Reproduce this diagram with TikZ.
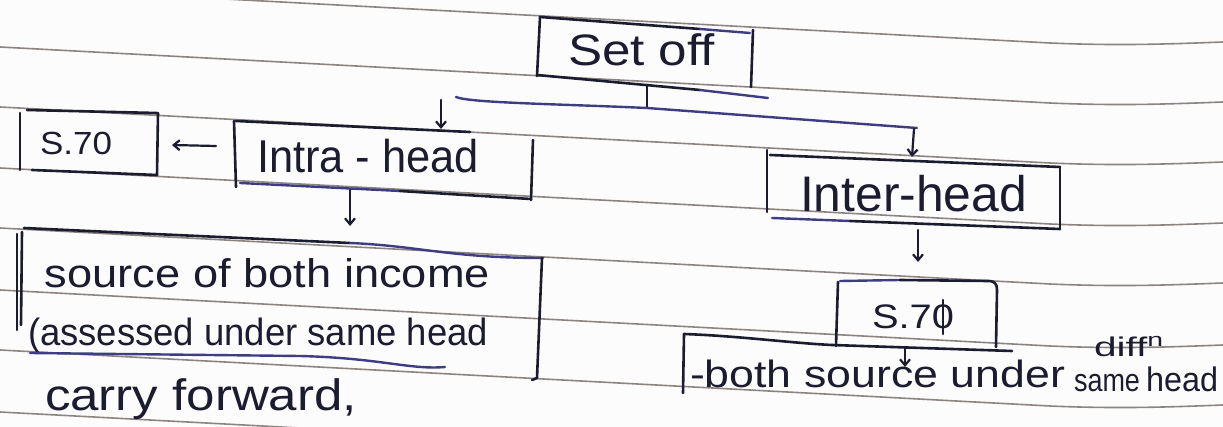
\documentclass[tikz,border=0pt]{standalone}
\usepackage{fontspec}
\setmainfont{Liberation Sans}
\usepackage{graphicx}
\usetikzlibrary{arrows.meta}
\definecolor{ink}{RGB}{28,28,48}
\definecolor{blueink}{RGB}{62,60,130}
\definecolor{rulegray}{RGB}{140,132,128}
\definecolor{paper}{RGB}{253,252,252}
\newcommand\hw[3]{{\fontsize{#2}{#2}\selectfont\resizebox{#1}{\height}{#3}}}
\begin{document}
\begin{tikzpicture}[x=1pt,y=-1pt,
  pen/.style={draw=ink, line width=2.6pt, line cap=round, line join=round},
  bpen/.style={draw=blueink, line width=2.4pt, line cap=round, line join=round},
  ruled/.style={draw=rulegray, line width=1.6pt},
  txt/.style={anchor=base west, inner sep=0pt, outer sep=0pt, text=ink},
  arr/.style={draw=ink, line width=2.2pt, line cap=round, -{Straight Barb[length=6pt,width=10pt]}}
]
\useasboundingbox (0,0) rectangle (1223,427);
\clip (0,0) rectangle (1223,427);
\fill[paper] (0,0) rectangle (1223,427);

% ruled paper lines
\foreach \y in {-13,47,107,168,228,290,350,412} {
  \draw[ruled] (0,\y) -- (1050,\y+56) .. controls (1120,\y+59) and (1170,\y+57) .. (1223,\y+55);
}

% ---------- texts ----------
\node[txt] (setoff) at (568,66) {\hw{147pt}{44}{Set off}};
\node[txt] (s70a) at (40,155) {\hw{72pt}{32}{S.70}};
\node[txt] (intra) at (257,173) {\hw{222pt}{46}{Intra - head}};
\node[txt] (inter) at (800,212) {\hw{227pt}{50}{Inter-head}};
\node[txt] (s70b) at (872,329) {\hw{82pt}{34}{S.70}};
\node[txt] (lone) at (45,288) {\hw{445pt}{40}{source of both income}};
\node[txt] (ltwo) at (28,345) {\hw{460pt}{38}{(assessed under same head}};
\node[txt] (lthree) at (45,410) {\hw{312pt}{44}{carry forward,}};
\node[txt] (rone) at (690,388) {\hw{375pt}{38}{-both source under}};
\node[txt] (same) at (1074,391) {\hw{66pt}{32}{same}};
\node[txt] (headr) at (1146,391) {\hw{72pt}{34}{head}};
\node[txt] (diff) at (1094,356) {\hw{70pt}{27}{diff\textsuperscript{n}}};

% stroke through the 0 of S.70 (right)
\coordinate (zerotop) at (943,300);
\coordinate (zerobot) at (943,334);
\draw[pen] (zerotop) -- (zerobot);

% ---------- boxes ----------
% Set off
\draw[pen] (540,17) -- (537,76);
\draw[pen] (540,17) -- (700,29);
\draw[bpen] (700,29) -- (750,33);
\draw[pen] (753,30) -- (751,87);
\draw[pen] (537,75) -- (700,90);
\draw[bpen] (700,90) -- (768,98);

% S.70 (left)
\draw[pen] (20,113) -- (20,170);
\draw[pen] (27,110) -- (157,113);
\draw[pen] (158,113) -- (157,175);
\draw[pen] (32,170) -- (157,175);

% Intra-head
\draw[pen] (234,121) -- (236,187);
\draw[pen] (236,121) -- (470,132);
\draw[pen] (533,140) -- (531,200);
\draw[bpen] (240,183) -- (400,191);
\draw[pen] (400,191) -- (531,199);

% big left box
\draw[pen] (17,234) -- (17,330);
\draw[pen] (22,232) -- (21,325);
\draw[pen] (24,228) -- (350,243);
\draw[bpen] (350,243) .. controls (420,246) and (450,258) .. (543,258);
\draw[pen] (542,258) -- (537,378) -- (532,380);
\draw[bpen] (30,353) -- (300,356) .. controls (380,358) and (410,370) .. (445,367);

% Inter-head
\draw[pen] (767,150) -- (767,212);
\draw[pen] (770,155) -- (1060,167);
\draw[pen] (1060,167) -- (1060,229);
\draw[bpen] (772,218) -- (850,221);
\draw[pen] (850,221) -- (1060,229);

% S.70 (right)
\draw[pen] (838,282) -- (836,346);
\draw[bpen] (840,281) -- (900,280);
\draw[pen] (900,280) -- (988,281) .. controls (995,281) and (997,284) .. (997,290) -- (996,347);
\draw[pen] (832,345) -- (1012,351);

% bottom right bracket
\draw[pen] (684,334) -- (683,393);
\draw[pen] (684,334) .. controls (740,336) and (790,343) .. (832,345);

% ---------- connectors ----------
\coordinate (stemtop) at (647,85);
\coordinate (stembot) at (647,108);
\coordinate (barL) at (456,97);
\coordinate (barR) at (917,128);
\coordinate (dropL) at (441,100);
\coordinate (dropLend) at (441,129);
\coordinate (dropR) at (914,129);
\coordinate (dropRend) at (912,157);
\coordinate (intraL) at (216,146);
\coordinate (s70aR) at (172,145);
\coordinate (intraB) at (350,190);
\coordinate (bigT) at (350,226);
\coordinate (interB) at (918,230);
\coordinate (s70bT) at (918,262);
\coordinate (s70bB) at (905,347);
\coordinate (botT) at (905,367);

\draw[pen] (stemtop) -- (stembot);
\draw[bpen] (barL) .. controls (470,103) and (560,104) .. (stembot) -- (barR);
\draw[arr] (dropL) -- (dropLend);
\draw[arr] (dropR) -- (dropRend);
\draw[arr] (intraL) -- (s70aR);
\draw[arr] (intraB) -- (bigT);
\draw[arr] (interB) -- (s70bT);
\draw[arr] (s70bB) -- (botT);
\end{tikzpicture}
\end{document}
